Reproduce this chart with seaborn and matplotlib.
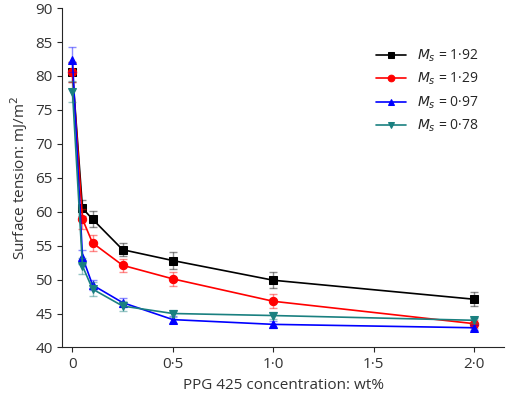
import matplotlib
matplotlib.use("Agg")
import matplotlib.pyplot as plt
import seaborn as sns
import pandas as pd

conc = [0, 0.05, 0.1, 0.25, 0.5, 1.0, 2.0]
ms192 = [80.6, 60.5, 58.9, 54.4, 52.8, 49.9, 47.1]
ms129 = [80.6, 58.9, 55.4, 52.1, 50.1, 46.8, 43.5]
ms097 = [82.4, 53.3, 49.2, 46.6, 44.1, 43.4, 42.9]
ms078 = [77.7, 52.0, 48.6, 46.1, 45.0, 44.7, 44.0]
err192 = [1.5, 1.2, 1.2, 1.0, 1.2, 1.2, 1.0]
err129 = [1.5, 1.5, 1.2, 1.0, 1.0, 1.0, 0.6]
err097 = [1.8, 1.0, 0.8, 0.7, 0.5, 0.5, 0.4]
err078 = [1.5, 1.2, 1.0, 0.7, 0.5, 0.5, 0.4]
labels = ["1·92", "1·29", "0·97", "0·78"]
xticks = [0, 0.5, 1.0, 1.5, 2.0]
xticklabels = ["0", "0·5", "1·0", "1·5", "2·0"]

sns.set_style("ticks")
plt.rcParams['font.family'] = ['Open Sans', 'DejaVu Sans']
fig, ax = plt.subplots(figsize=(5.2, 4.04), dpi=100)

series = [ms192, ms129, ms097, ms078]
errs = [err192, err129, err097, err078]
colors = ["black", "#ff0000", "#0000ff", "#1a8080"]
markers = ["s", "o", "^", "v"]
for s, e, c, m, l in zip(series, errs, colors, markers, labels):
    df = pd.DataFrame({"x": conc, "y": s})
    ax.errorbar(conc, s, yerr=e, fmt="none", ecolor=c, alpha=0.45, capsize=3, lw=1)
    sns.lineplot(data=df, x="x", y="y", ax=ax, color=c, marker=m, markersize=6,
                 markeredgecolor=c, lw=1.2, label=f"$M_s$ = {l}")

sns.despine(ax=ax)
ax.set_xlim(-0.05, 2.15)
ax.set_ylim(40, 90)
ax.set_xticks(xticks)
ax.set_xticklabels(xticklabels)
ax.set_yticks(range(40, 91, 5))
ax.set_xlabel("PPG 425 concentration: wt%", fontsize=11, color="#333333")
ax.set_ylabel("Surface tension: mJ/m$^2$", fontsize=11, color="#333333")
ax.tick_params(labelsize=11, labelcolor="#333333")
leg = ax.legend(loc="upper right", bbox_to_anchor=(0.97, 0.92), frameon=False,
                fontsize=10, markerscale=0.8, handlelength=2.2)
fig.subplots_adjust(left=0.12, right=0.97, top=0.98, bottom=0.14)
fig.savefig("out.png", dpi=100)
